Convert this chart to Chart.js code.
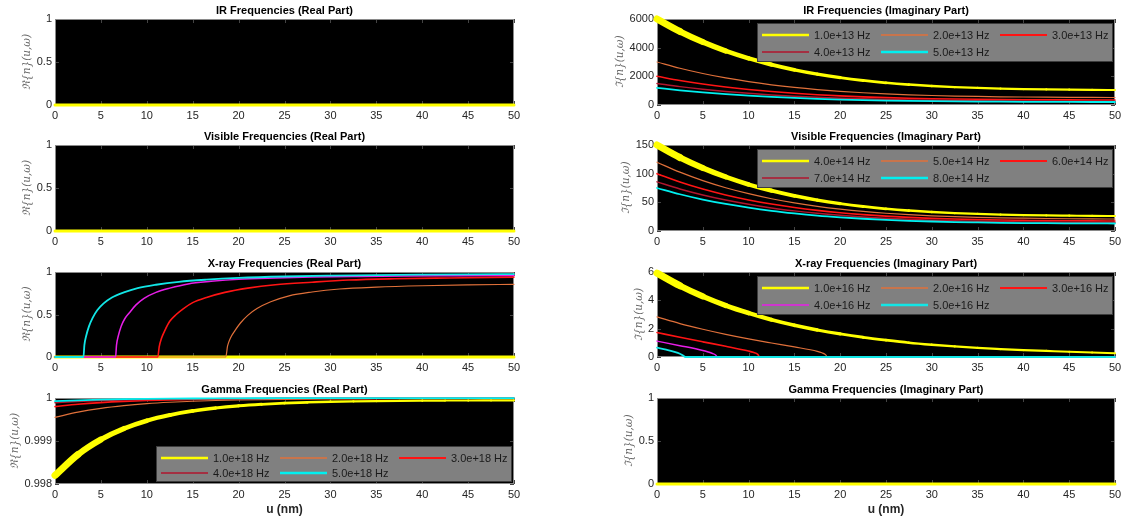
<!DOCTYPE html>
<html>
<head>
<meta charset="utf-8">
<script src="https://cdn.jsdelivr.net/npm/chart.js@4.4.1/dist/chart.umd.min.js"></script>
<style>
  html, body { margin:0; padding:0; background:#fff; }
  body { width:1122px; height:521px; position:relative; overflow:hidden; }
  canvas { position:absolute; }
</style>
</head>
<body>
<script>
// ---- data (u in nm) ----
const uGrid = [0,2.5,5,7.5,10,12.5,15,17.5,20,22.5,25,27.5,30,32.5,35,37.5,40,42.5,45,47.5,50];
const zeroLine = [0,0,0,0,0,0,0,0,0,0,0,0,0,0,0,0,0,0,0,0,0];

// IR imaginary part
const irIm1 = [6000,5129,4394,3774,3253,2817,2455,2155,1910,1711,1551,1424,1324,1248,1190,1146,1113,1088,1070,1057,1047];
const irIm2 = [3000,2565,2197,1887,1627,1409,1228,1078,955,856,776,712,662,624,595,573,557,544,535,529,524];
const irIm3 = [2000,1710,1465,1258,1084,939,818,718,637,570,517,475,441,416,397,382,371,363,357,352,349];
const irIm4 = [1500,1282,1099,944,813,704,614,539,478,428,388,356,331,312,298,287,278,272,268,264,262];
const irIm5 = [1200,1026,879,755,651,563,491,431,382,342,310,285,265,250,238,229,223,218,214,211,209];

// Visible imaginary part
const visIm4 = [150,128.2,109.9,94.4,81.3,70.4,61.4,53.9,47.8,42.8,38.8,35.6,33.1,31.2,29.8,28.7,27.8,27.2,26.8,26.4,26.2];
const visIm5 = [120,102.6,87.9,75.5,65.1,56.3,49.1,43.1,38.2,34.2,31.0,28.5,26.5,25.0,23.8,22.9,22.3,21.8,21.4,21.1,20.9];
const visIm6 = [100,85.5,73.2,62.9,54.2,47.0,40.9,35.9,31.8,28.5,25.9,23.7,22.1,20.8,19.8,19.1,18.6,18.1,17.8,17.6,17.5];
const visIm7 = [85.7,73.3,62.8,53.9,46.5,40.2,35.1,30.8,27.3,24.4,22.2,20.3,18.9,17.8,17.0,16.4,15.9,15.5,15.3,15.1,15.0];
const visIm8 = [75,64.1,54.9,47.2,40.7,35.2,30.7,26.9,23.9,21.4,19.4,17.8,16.6,15.6,14.9,14.3,13.9,13.6,13.4,13.2,13.1];

// X-ray real part (each curve has its own u points)
const xrU1 = [0,50];
const xrRe1 = [0,0];
const xrU2 = [0,18.6,18.8,19.1,19.6,20.2,21,22,23.5,25.5,28,31,35,40,45,50];
const xrRe2 = [0,0,0.13,0.22,0.31,0.40,0.49,0.57,0.65,0.72,0.765,0.80,0.822,0.838,0.848,0.855];
const xrU3 = [0,11.2,11.35,11.6,12,12.5,13.2,14,15,16.5,18.5,21,24,28,32,37,43,50];
const xrRe3 = [0,0,0.12,0.22,0.32,0.42,0.5,0.57,0.64,0.70,0.76,0.81,0.85,0.88,0.905,0.92,0.93,0.94];
const xrU4 = [0,6.6,6.7,6.9,7.2,7.6,8.1,8.8,9.7,11,12.5,14.5,17,20,24,28,33,38,44,50];
const xrRe4 = [0,0,0.14,0.25,0.36,0.45,0.52,0.61,0.69,0.76,0.81,0.86,0.89,0.915,0.93,0.94,0.947,0.952,0.956,0.96];
const xrU5 = [0,3.1,3.2,3.4,3.7,4.1,4.6,5.3,6.2,7.5,9,11,13.5,16.5,20,25,30,35,40,45,50];
const xrRe5 = [0,0,0.14,0.25,0.36,0.46,0.55,0.63,0.70,0.76,0.81,0.85,0.885,0.91,0.93,0.947,0.957,0.964,0.969,0.973,0.976];

// X-ray imaginary part
const xiU2 = [0,2.5,5,7.5,10,12.5,15,17.5,18,18.4,18.6,50];
const xiIm2 = [2.83,2.36,1.96,1.60,1.28,0.99,0.71,0.40,0.30,0.17,0,0];
const xiU3 = [0,2.5,5,7.5,10,10.5,11,11.2,50];
const xiIm3 = [1.73,1.39,1.07,0.76,0.42,0.33,0.19,0,0];
const xiU4 = [0,2.5,5,5.5,6,6.4,6.6,50];
const xiIm4 = [1.12,0.80,0.46,0.37,0.26,0.14,0,0];
const xiU5 = [0,1,2,2.5,2.8,3.1,50];
const xiIm5 = [0.66,0.52,0.35,0.23,0.13,0,0];
const xiIm1 = [5.92,5.03,4.28,3.64,3.10,2.63,2.24,1.91,1.63,1.39,1.19,1.01,0.87,0.75,0.64,0.56,0.49,0.43,0.37,0.32,0.27];

// Gamma real part
const gRe1 = [0.99820,0.998685,0.999035,0.999288,0.999471,0.999603,0.999699,0.999768,0.999818,0.999854,0.999880,0.999899,0.999912,0.999922,0.999929,0.999934,0.999938,0.999941,0.999943,0.999944,0.999945];
const gRe2 = [0.99955,0.999671,0.999759,0.999822,0.999868,0.999901,0.999925,0.999942,0.999954,0.999963,0.99997,0.999975,0.999978,0.999981,0.999982,0.999984,0.999985,0.999985,0.999986,0.999986,0.999986];
const gRe3 = [0.99980,0.999854,0.999893,0.999921,0.999941,0.999956,0.999967,0.999974,0.99998,0.999984,0.999987,0.999989,0.99999,0.999991,0.999992,0.999993,0.999993,0.999993,0.999994,0.999994,0.999994];
const gRe4 = [0.999888,0.999918,0.99994,0.999956,0.999967,0.999975,0.999981,0.999985,0.999989,0.999991,0.999992,0.999994,0.999995,0.999995,0.999996,0.999996,0.999996,0.999996,0.999997,0.999997,0.999997];
const gRe5 = [0.999928,0.999947,0.999961,0.999972,0.999979,0.999984,0.999988,0.999991,0.999993,0.999994,0.999995,0.999996,0.999996,0.999997,0.999997,0.999997,0.999998,0.999998,0.999998,0.999998,0.999998];

const irLabels = ['1.0e+13 Hz','2.0e+13 Hz','3.0e+13 Hz','4.0e+13 Hz','5.0e+13 Hz'];
const visLabels = ['4.0e+14 Hz','5.0e+14 Hz','6.0e+14 Hz','7.0e+14 Hz','8.0e+14 Hz'];
const xrayLabels = ['1.0e+16 Hz','2.0e+16 Hz','3.0e+16 Hz','4.0e+16 Hz','5.0e+16 Hz'];
const gammaLabels = ['1.0e+18 Hz','2.0e+18 Hz','3.0e+18 Hz','4.0e+18 Hz','5.0e+18 Hz'];

// ---- styles ----
const FONT = '"Liberation Sans", Arial, Helvetica, sans-serif';
const baseColors = ['#ffff00','#e0703a','#ff1414','#b0162e','#00f0f0'];
const xrayColors = ['#ffff00','#e0703a','#ff1414','#e81ee8','#12e6e6'];
const lineW  = [3, 1.2, 1.6, 1.5, 1.8];
const legendW = [2.5, 1.5, 2, 1.5, 2.5];

// page geometry of the plot boxes (MATLAB subplot grid)
const colX = [[55,514],[657,1115]];
const rowY = [[19,105],[145,231],[272,357],[398,484]];
const AXW = 55, TOPPAD = 18, RPAD = 12;

function pts(xs, ys){ return xs.map((x,i)=>({x:x, y:ys[i]})); }

const panels = [
  { title:'IR Frequencies (Real Part)', r:0, c:0, re:true, y:[0,1,0.5],
    series:[pts(uGrid,zeroLine),pts(uGrid,zeroLine),pts(uGrid,zeroLine),pts(uGrid,zeroLine),pts(uGrid,zeroLine)],
    labels:irLabels, colors:baseColors, flat:true },
  { title:'IR Frequencies (Imaginary Part)', r:0, c:1, re:false, y:[0,6000,2000],
    series:[pts(uGrid,irIm1),pts(uGrid,irIm2),pts(uGrid,irIm3),pts(uGrid,irIm4),pts(uGrid,irIm5)],
    labels:irLabels, colors:baseColors, legend:'top' },
  { title:'Visible Frequencies (Real Part)', r:1, c:0, re:true, y:[0,1,0.5],
    series:[pts(uGrid,zeroLine),pts(uGrid,zeroLine),pts(uGrid,zeroLine),pts(uGrid,zeroLine),pts(uGrid,zeroLine)],
    labels:visLabels, colors:baseColors, flat:true },
  { title:'Visible Frequencies (Imaginary Part)', r:1, c:1, re:false, y:[0,150,50],
    series:[pts(uGrid,visIm4),pts(uGrid,visIm5),pts(uGrid,visIm6),pts(uGrid,visIm7),pts(uGrid,visIm8)],
    labels:visLabels, colors:baseColors, legend:'top' },
  { title:'X-ray Frequencies (Real Part)', r:2, c:0, re:true, y:[0,1,0.5],
    series:[pts(xrU1,xrRe1),pts(xrU2,xrRe2),pts(xrU3,xrRe3),pts(xrU4,xrRe4),pts(xrU5,xrRe5)],
    labels:xrayLabels, colors:xrayColors, yellowFlat:true },
  { title:'X-ray Frequencies (Imaginary Part)', r:2, c:1, re:false, y:[0,6,2],
    series:[pts(uGrid,xiIm1),pts(xiU2,xiIm2),pts(xiU3,xiIm3),pts(xiU4,xiIm4),pts(xiU5,xiIm5)],
    labels:xrayLabels, colors:xrayColors, legend:'top' },
  { title:'Gamma Frequencies (Real Part)', r:3, c:0, re:true, y:[0.998,1,0.001],
    series:[pts(uGrid,gRe1),pts(uGrid,gRe2),pts(uGrid,gRe3),pts(uGrid,gRe4),pts(uGrid,gRe5)],
    labels:gammaLabels, colors:baseColors, legend:'bottom', xTitle:true },
  { title:'Gamma Frequencies (Imaginary Part)', r:3, c:1, re:false, y:[0,1,0.5],
    series:[pts(uGrid,zeroLine),pts(uGrid,zeroLine),pts(uGrid,zeroLine),pts(uGrid,zeroLine),pts(uGrid,zeroLine)],
    labels:gammaLabels, colors:baseColors, flat:true, xTitle:true }
];

// draws the MATLAB-ish decorations: black axes, box, inward ticks, titles, legend
const decor = {
  id:'decor',
  beforeDatasetsDraw(chart){
    const {ctx, chartArea:a} = chart;
    ctx.save();
    ctx.fillStyle = '#000';
    ctx.fillRect(a.left, a.top, a.right-a.left, a.bottom-a.top);
    ctx.strokeStyle = '#444';
    ctx.lineWidth = 1;
    const xs = chart.scales.x, ys = chart.scales.y;
    ctx.beginPath();
    xs.ticks.forEach(t=>{
      const px = Math.round(xs.getPixelForValue(t.value))+0.5;
      ctx.moveTo(px,a.bottom); ctx.lineTo(px,a.bottom-4);
      ctx.moveTo(px,a.top); ctx.lineTo(px,a.top+4);
    });
    ys.ticks.forEach(t=>{
      const py = Math.round(ys.getPixelForValue(t.value))+0.5;
      ctx.moveTo(a.left,py); ctx.lineTo(a.left+4,py);
      ctx.moveTo(a.right,py); ctx.lineTo(a.right-4,py);
    });
    ctx.stroke();
    ctx.strokeStyle = '#8a8a8a';
    ctx.strokeRect(a.left+0.5, a.top+0.5, a.right-a.left-1, a.bottom-a.top-1);
    ctx.restore();
  },
  afterDatasetsDraw(chart){
    const p = chart.options.plugins.decor;
    if(!p.legend) return;
    const {ctx, chartArea:a} = chart;
    const w = 356, h = p.legend==='top' ? 39 : 36;
    const bx = a.right - 2 - w;
    const by = p.legend==='top' ? a.top + 4 : a.bottom - 2 - h;
    ctx.save();
    ctx.fillStyle = '#808080';
    ctx.fillRect(bx, by, w, h);
    ctx.strokeStyle = '#3c3c3c';
    ctx.lineWidth = 1;
    ctx.strokeRect(bx+0.5, by+0.5, w-1, h-1);
    ctx.font = '11px ' + FONT;
    ctx.textBaseline = 'middle';
    ctx.textAlign = 'left';
    const rowGap = p.legend==='top' ? 17 : 15;
    chart.data.datasets.forEach((ds,i)=>{
      const col = i % 3, row = Math.floor(i/3);
      const x0 = bx + 5 + col*119;
      const y0 = by + 12 + row*rowGap;
      ctx.strokeStyle = ds.borderColor;
      ctx.lineWidth = ds.legendWidth;
      ctx.beginPath(); ctx.moveTo(x0,y0); ctx.lineTo(x0+47,y0); ctx.stroke();
      ctx.fillStyle = '#1a1a1a';
      ctx.fillText(ds.label, x0+52, y0+0.5);
    });
    ctx.restore();
  },
  afterDraw(chart){
    const p = chart.options.plugins.decor;
    const {ctx, chartArea:a} = chart;
    const cx = (a.left+a.right)/2;
    ctx.save();
    ctx.fillStyle = '#000';
    ctx.font = 'bold 11px ' + FONT;
    ctx.textAlign = 'center';
    ctx.textBaseline = 'middle';
    ctx.fillText(p.title, cx, a.top - 8);
    if(p.xTitle){
      ctx.font = 'bold 12px ' + FONT;
      ctx.fillStyle = '#262626';
      ctx.fillText('u (nm)', cx, a.bottom + 26);
    }
    // y label, placed just left of the widest tick label
    ctx.font = '11px ' + FONT;
    let widest = 0;
    chart.scales.y.ticks.forEach(t=>{ widest = Math.max(widest, ctx.measureText(t.label).width); });
    const lx = a.left - 3 - widest - 9;
    ctx.translate(lx, (a.top+a.bottom)/2);
    ctx.rotate(-Math.PI/2);
    ctx.font = 'italic 10.5px "DejaVu Serif", serif';
    ctx.fillStyle = '#666';
    ctx.fillText((p.re ? '\u211C' : '\u2111') + '{n}(u,\u03C9)', 0, 0);
    ctx.restore();
  }
};

panels.forEach(pn=>{
  const [L,R] = colX[pn.c], [T,B] = rowY[pn.r];
  const xAxH = pn.xTitle ? 36 : 18;
  const cv = document.createElement('canvas');
  cv.width = (R-L) + AXW + RPAD;
  cv.height = (B-T) + TOPPAD + xAxH;
  cv.style.left = (L-AXW)+'px';
  cv.style.top = (T-TOPPAD)+'px';
  document.body.appendChild(cv);

  const datasets = pn.series.map((data,i)=>{
    const ds = {
      label: pn.labels[i],
      data: data,
      borderColor: pn.colors[i],
      borderWidth: lineW[i],
      legendWidth: legendW[i],
      pointRadius: 0,
      cubicInterpolationMode: 'monotone',
      clip: false,
      borderCapStyle: 'round',
      borderJoinStyle: 'round',
      order: pn.flat && i===0 ? -10 : -i
    };
    // the first (yellow) curve is drawn much heavier where it is large
    if(i===0 && !pn.flat && !pn.yellowFlat){
      ds.segment = { borderWidth: c => 2 + 5*Math.exp(-c.p0.parsed.x/12) };
    }
    return ds;
  });

  new Chart(cv, {
    type:'line',
    data:{ datasets },
    options:{
      responsive:false,
      animation:false,
      events:[],
      devicePixelRatio:1,
      layout:{ padding:{ top:TOPPAD, right:RPAD, left:0, bottom:0 } },
      scales:{
        x:{
          type:'linear', min:0, max:50,
          afterFit: s => { s.height = xAxH; },
          grid:{ display:false, drawTicks:false },
          border:{ display:false },
          ticks:{ stepSize:5, autoSkip:false, maxRotation:0, padding:4,
                  color:'#262626', font:{ family:FONT, size:11 } }
        },
        y:{
          type:'linear', min:pn.y[0], max:pn.y[1],
          afterFit: s => { s.width = AXW; },
          grid:{ display:false, drawTicks:false },
          border:{ display:false },
          ticks:{ stepSize:pn.y[2], padding:3, color:'#262626', font:{ family:FONT, size:11 },
                  callback: v => String(Math.round(v*1e6)/1e6) }
        }
      },
      plugins:{
        legend:{ display:false },
        tooltip:{ enabled:false },
        decor:{ title:pn.title, re:pn.re, legend:pn.legend, xTitle:pn.xTitle }
      }
    },
    plugins:[decor]
  });
});
</script>
</body>
</html>
